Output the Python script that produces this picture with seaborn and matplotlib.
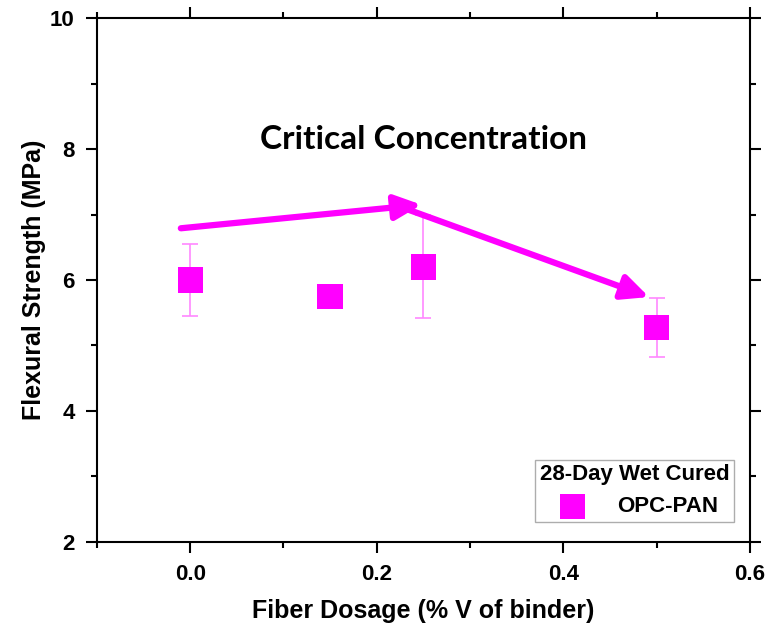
import numpy as np
import pandas as pd
import matplotlib
matplotlib.use('Agg')
import matplotlib.pyplot as plt
from matplotlib.ticker import MultipleLocator
import seaborn as sns

# data
dosage = [0.0, 0.15, 0.25, 0.5]
strength = [6.0, 5.75, 6.2, 5.27]
err_low = [0.55, np.nan, 0.78, 0.45]
err_high = [0.55, np.nan, 0.79, 0.46]
series_name = 'OPC-PAN'
legend_title = '28-Day Wet Cured'

# trend arrows (start/end in data units)
arrow1_start = (-0.01, 6.79)
arrow1_end = (0.248, 7.15)
arrow2_start = (0.225, 7.12)
arrow2_end = (0.492, 5.74)

sns.set_style('ticks')
plt.rcParams['font.family'] = ['Liberation Sans', 'DejaVu Sans']
plt.rcParams['text.color'] = 'black'
plt.rcParams['axes.labelcolor'] = 'black'
plt.rcParams['xtick.color'] = 'black'
plt.rcParams['ytick.color'] = 'black'
plt.rcParams['axes.edgecolor'] = 'black'

df = pd.DataFrame({'Fiber Dosage': dosage, 'Flexural Strength': strength})
magenta = '#ff00ff'

fig = plt.figure(figsize=(7.69, 6.25), dpi=100)
ax = fig.add_axes([0.126, 0.133, 0.849, 0.838])

ax.errorbar(dosage, strength, yerr=[err_low, err_high], fmt='none',
            ecolor='#ff88ff', elinewidth=1.2, capsize=6, capthick=1.2, zorder=2)
sns.scatterplot(data=df, x='Fiber Dosage', y='Flexural Strength', marker='s', s=330,
                color=magenta, edgecolor='none', label=series_name, ax=ax, zorder=3)

for s, e in [(arrow1_start, arrow1_end), (arrow2_start, arrow2_end)]:
    ax.annotate('', xy=e, xytext=s,
                arrowprops=dict(arrowstyle='-|>,head_length=1.6,head_width=0.75',
                                color=magenta, lw=4.5, shrinkA=0, shrinkB=0))

ax.text(0.25, 8.15, 'Critical Concentration', ha='center', va='center',
        fontsize=24, fontweight='bold', family=['Lato', 'DejaVu Sans'])

ax.set_xlim(-0.1, 0.6)
ax.set_ylim(2, 10)
ax.xaxis.set_major_locator(MultipleLocator(0.2))
ax.xaxis.set_minor_locator(MultipleLocator(0.1))
ax.yaxis.set_major_locator(MultipleLocator(2))
ax.yaxis.set_minor_locator(MultipleLocator(1))
ax.tick_params(which='both', direction='out', top=True, right=True, width=1.5)
ax.tick_params(which='major', length=8, labelsize=16, pad=8)
ax.tick_params(which='minor', length=4)
ax.tick_params(labeltop=False, labelright=False)
for lab in ax.get_xticklabels() + ax.get_yticklabels():
    lab.set_fontweight('bold')
for sp in ax.spines.values():
    sp.set_visible(True)
    sp.set_linewidth(1.5)

ax.set_xlabel('Fiber Dosage (% V of binder)', fontsize=18, fontweight='bold', labelpad=10)
ax.set_ylabel('Flexural Strength (MPa)', fontsize=18, fontweight='bold', labelpad=3)

leg = ax.legend(title=legend_title, loc='lower right', bbox_to_anchor=(0.982, 0.03),
                frameon=True, fancybox=False, edgecolor='#999999', markerscale=1.0,
                prop={'size': 16, 'weight': 'bold'}, handletextpad=1.0,
                borderpad=0.2, borderaxespad=0.2)
leg.get_title().set_fontweight('bold')
leg.get_title().set_fontsize(16)
leg.get_frame().set_linewidth(1.0)

fig.savefig('out.png', dpi=100)
